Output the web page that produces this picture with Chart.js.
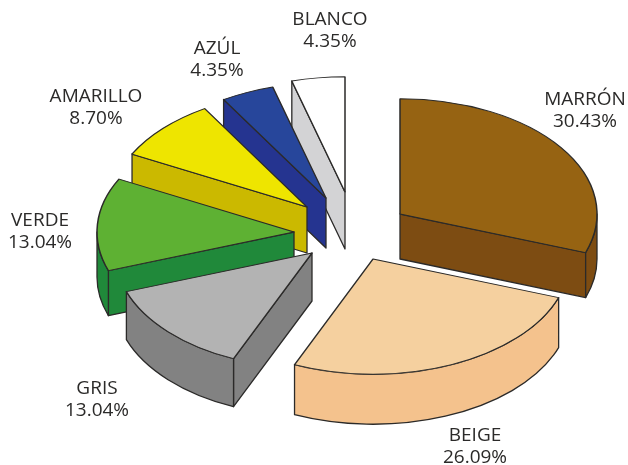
<!DOCTYPE html>
<html>
<head>
<meta charset="utf-8">
<title>Colores</title>
<script src="https://cdn.jsdelivr.net/npm/chart.js@4/dist/chart.umd.js"></script>
<style>
  html, body { margin: 0; padding: 0; background: #fff; }
  canvas { display: block; }
</style>
</head>
<body>
<canvas id="chart" width="628" height="465"></canvas>
<script>
const categories = ["MARRÓN", "BEIGE", "GRIS", "VERDE", "AMARILLO", "AZÚL", "BLANCO"];
const percents = [30.43, 26.09, 13.04, 13.04, 8.70, 4.35, 4.35];

// look of each slice
const topColors = ["#966312", "#f5d09f", "#b3b3b3", "#5eb133", "#eee500", "#27469b", "#ffffff"];
const sideColors = ["#7d4c12", "#f4c28d", "#828282", "#20893a", "#cbb900", "#253490", "#d3d3d5"];
const explodeX = [50, 23, -38, -56, -43, -24, -5];
const explodeY = [-17, 28, 22, 1, -24, -33, -39];
const depths = [45, 50, 48, 45, 46, 50, 57];
const labelAt = [[585, 100], [475, 436], [97, 389], [40, 221], [96, 97], [217, 49], [330, 20]];

const tilt = 0.585;
const lineColor = "#2b2a29";

const pie3d = {
  id: "pie3d",
  afterDatasetsUpdate(chart) {
    // pull the slices apart (the arc offset option would also resize them)
    chart.getDatasetMeta(0).data.forEach((arc, i) => {
      arc.x += explodeX[i];
      arc.y += explodeY[i] / tilt;
    });
  },
  beforeDatasetsDraw(chart) {
    const ctx = chart.ctx;
    const arcs = chart.getDatasetMeta(0).data;
    const cy = (chart.chartArea.top + chart.chartArea.bottom) / 2;

    // sides first, from the back slice to the front one
    for (let i = arcs.length - 1; i >= 0; i--) {
      drawSides(ctx, arcs[i], cy, sideColors[i], depths[i]);
    }

    // the top faces are the chart's own arcs, flattened
    ctx.save();
    ctx.translate(0, cy);
    ctx.scale(1, tilt);
    ctx.translate(0, -cy);
  },
  afterDatasetsDraw(chart) {
    chart.ctx.restore();
  },
  afterDraw(chart) {
    const ctx = chart.ctx;
    ctx.save();
    ctx.fillStyle = lineColor;
    ctx.font = "19px 'Open Sans'";
    ctx.textAlign = "center";
    ctx.textBaseline = "middle";
    categories.forEach((name, i) => {
      ctx.fillText(name, labelAt[i][0], labelAt[i][1]);
      ctx.fillText(percents[i].toFixed(2) + "%", labelAt[i][0], labelAt[i][1] + 22);
    });
    ctx.restore();
  }
};

function drawSides(ctx, arc, midY, color, depth) {
  const r = arc.outerRadius;
  const a = arc.startAngle;
  const b = arc.endAngle;
  const cx = arc.x;
  const cy = midY + (arc.y - midY) * tilt;
  const px = t => cx + Math.cos(t) * r;
  const py = t => cy + Math.sin(t) * r * tilt;

  ctx.save();
  ctx.fillStyle = color;
  ctx.strokeStyle = lineColor;
  ctx.lineWidth = 1.3;
  ctx.lineJoin = "round";

  const face = () => {
    ctx.closePath();
    ctx.fill();
    ctx.stroke();
  };
  const radial = t => {
    ctx.beginPath();
    ctx.moveTo(cx, cy);
    ctx.lineTo(px(t), py(t));
    ctx.lineTo(px(t), py(t) + depth);
    ctx.lineTo(cx, cy + depth);
    face();
  };

  // only the faces that look towards the viewer
  if (-Math.cos(a) > 0.001) radial(a);
  if (Math.cos(b) > 0.001) radial(b);

  // curved outer wall, the part between 0 and 180 degrees
  const from = Math.max(a, 0);
  const to = Math.min(b, Math.PI);
  if (to > from) {
    ctx.beginPath();
    ctx.ellipse(cx, cy, r, r * tilt, 0, from, to);
    ctx.lineTo(px(to), py(to) + depth);
    ctx.ellipse(cx, cy + depth, r, r * tilt, 0, to, from, true);
    face();
  }
  ctx.restore();
}

new Chart(document.getElementById("chart").getContext("2d"), {
  type: "pie",
  data: {
    labels: categories,
    datasets: [{
      data: percents,
      backgroundColor: topColors,
      borderColor: lineColor,
      borderWidth: 1.5,
      borderJoinStyle: "round",
      clip: false
    }]
  },
  options: {
    responsive: false,
    animation: false,
    events: [],
    radius: 197,
    layout: { padding: { left: 72, bottom: 3 } },
    plugins: { legend: { display: false }, tooltip: { enabled: false } }
  },
  plugins: [pie3d]
});
</script>
</body>
</html>
